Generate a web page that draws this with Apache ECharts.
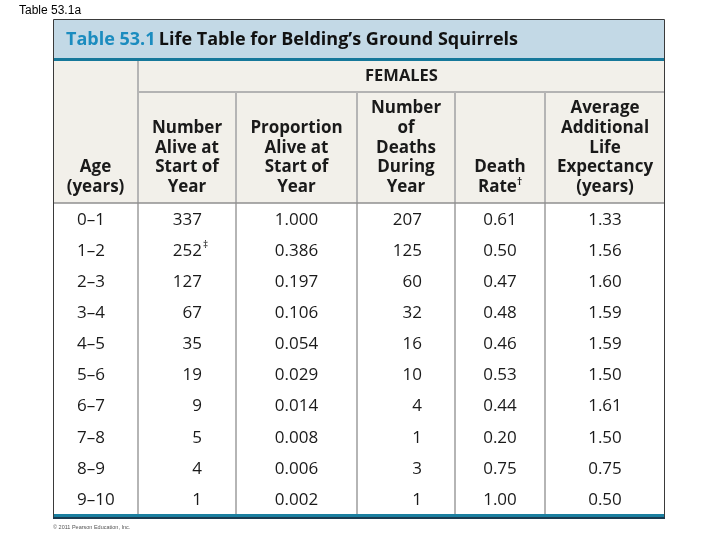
<!DOCTYPE html>
<html><head><meta charset="utf-8">
<script src="https://cdn.jsdelivr.net/npm/echarts@6/dist/echarts.min.js"></script>
<style>html,body{margin:0;padding:0;background:#fff}#c{width:720px;height:540px}</style>
</head><body><div id="c"></div>
<script>
// ---- data ----
const ages = ['0–1','1–2','2–3','3–4','4–5','5–6','6–7','7–8','8–9','9–10'];
const numberAlive = [337,252,127,67,35,19,9,5,4,1];
const numberAliveNotes = ['','‡','','','','','','','',''];
const proportionAlive = [1.000,0.386,0.197,0.106,0.054,0.029,0.014,0.008,0.006,0.002];
const deaths = [207,125,60,32,16,10,4,1,3,1];
const deathRate = [0.61,0.50,0.47,0.48,0.46,0.53,0.44,0.20,0.75,1.00];
const lifeExpectancy = [1.33,1.56,1.60,1.59,1.59,1.50,1.61,1.50,0.75,0.50];
const columnHeaders = [
  'Age\n(years)',
  'Number\nAlive at\nStart of\nYear',
  'Proportion\nAlive at\nStart of\nYear',
  'Number\nof\nDeaths\nDuring\nYear',
  'Death\nRate{sup|†}',
  'Average\nAdditional\nLife\nExpectancy\n(years)'
];
const groupHeader = 'FEMALES';
const titleNumber = 'Table 53.1';
const titleText = 'Life Table for Belding’s Ground Squirrels';
const slideLabel = 'Table 53.1a';
const credit = '© 2011 Pearson Education, Inc.';

// ---- layout ----
const TL = 53, TR = 665;
const colEdges = [53,138,236,357,455,545,665];
const anchors = [
  {x: 24, align: 'left'},
  {x: 149, align: 'right'},
  {x: 243.5, align: 'center'},
  {x: 369, align: 'right'},
  {x: 447, align: 'center'},
  {x: 552, align: 'center'}
];
const FONT = '"Open Sans", "Noto Sans", sans-serif';
const TXT = '#1a1a1a';

function cellText(c, r) {
  switch (c) {
    case 0: return ages[r];
    case 1: return String(numberAlive[r]);
    case 2: return proportionAlive[r].toFixed(3);
    case 3: return String(deaths[r]);
    case 4: return deathRate[r].toFixed(2);
    case 5: return lifeExpectancy[r].toFixed(2);
  }
}

const cells = [];
for (let r = 0; r < ages.length; r++) for (let c = 0; c < 6; c++) cells.push([c, r]);

const g = [];
// title bar
g.push({type:'rect', shape:{x:TL, y:20, width:TR-TL, height:38}, style:{fill:'#c3d9e6'}});
g.push({type:'rect', shape:{x:TL, y:58, width:TR-TL, height:3}, style:{fill:'#16789a'}});
g.push({type:'rect', shape:{x:TL, y:61, width:TR-TL, height:142}, style:{fill:'#f2f0ea'}});
// lines
g.push({type:'line', shape:{x1:138, y1:92, x2:TR, y2:92}, style:{stroke:'#b3b3b3', lineWidth:2}});
g.push({type:'line', shape:{x1:138, y1:61, x2:138, y2:514}, style:{stroke:'#b5b5b5', lineWidth:2}});
for (let i = 2; i < colEdges.length - 1; i++) {
  g.push({type:'line', shape:{x1:colEdges[i], y1:92, x2:colEdges[i], y2:514}, style:{stroke:'#b5b5b5', lineWidth:2}});
}
g.push({type:'line', shape:{x1:TL, y1:203, x2:TR, y2:203}, style:{stroke:'#8f8f8f', lineWidth:1.5}});
g.push({type:'rect', shape:{x:TL, y:514, width:TR-TL, height:3}, style:{fill:'#1a7fa0'}});
g.push({type:'rect', shape:{x:TL, y:517, width:TR-TL, height:2}, style:{fill:'#1b3a4f'}});
// outer border
g.push({type:'polyline', shape:{points:[[53.5,517],[53.5,19.5],[664.5,19.5],[664.5,517]]}, style:{stroke:'#3a3a3a', lineWidth:1, fill:null}});
// title
g.push({type:'text', style:{
  text:'{a|' + titleNumber + '} {b|' + titleText + '}', x:66, y:40, verticalAlign:'middle',
  rich:{a:{fontSize:18, fontWeight:'bold', fontFamily:FONT, fill:'#1b8cbf'},
        b:{fontSize:18, fontWeight:'bold', fontFamily:FONT, fill:'#111'}}
}});
g.push({type:'text', style:{text:groupHeader, x:(138+TR)/2, y:76.5, align:'center', verticalAlign:'middle',
  fontSize:16.5, fontWeight:'bold', fontFamily:FONT, fill:TXT}});
for (let c = 0; c < 6; c++) {
  g.push({type:'text', style:{text:columnHeaders[c], x:(colEdges[c]+colEdges[c+1])/2, y:197,
    align:'center', verticalAlign:'bottom', fontSize:17, fontWeight:'bold', fontFamily:FONT, lineHeight:19.7, fill:TXT,
    rich:{sup:{fontSize:10, fontWeight:'bold', fontFamily:FONT, fill:TXT, verticalAlign:'top', lineHeight:19.7, padding:[0,0,6,0]}}}});
}
g.push({type:'text', style:{text:slideLabel, x:19, y:10.5, verticalAlign:'middle', fontSize:12, fontFamily:'"Liberation Sans", Arial, sans-serif', fill:'#000'}});
g.push({type:'text', style:{text:credit, x:53, y:527, verticalAlign:'middle', fontSize:5.5, fontFamily:'"Liberation Sans", Arial, sans-serif', fill:'#555'}});

const chart = echarts.init(document.getElementById('c'));
chart.setOption({
  animation:false,
  graphic:g,
  grid:{left:TL, right:720-TR, top:203, bottom:540-514, containLabel:false, show:false},
  xAxis:{type:'value', min:0, max:TR-TL, show:false},
  yAxis:{type:'category', data:ages, inverse:true, show:false},
  series:[{
    type:'custom',
    data:cells,
    encode:{x:0, y:1},
    z:10,
    renderItem:function(params, api){
      const c = api.value(0), r = api.value(1);
      const a = anchors[c];
      const p = api.coord([a.x, r]);
      const children = [{type:'text', style:{text:cellText(c, r), x:p[0], y:p[1] + 1.5, align:a.align, verticalAlign:'middle',
        fontSize:17, fontFamily:FONT, fill:TXT}}];
      if (c === 1 && numberAliveNotes[r]) {
        children.push({type:'text', style:{text:numberAliveNotes[r], x:p[0]+1, y:p[1]-4.5, align:'left', verticalAlign:'middle',
          fontSize:10, fontFamily:FONT, fill:TXT}});
      }
      return {type:'group', children:children};
    }
  }]
});
</script></body></html>
